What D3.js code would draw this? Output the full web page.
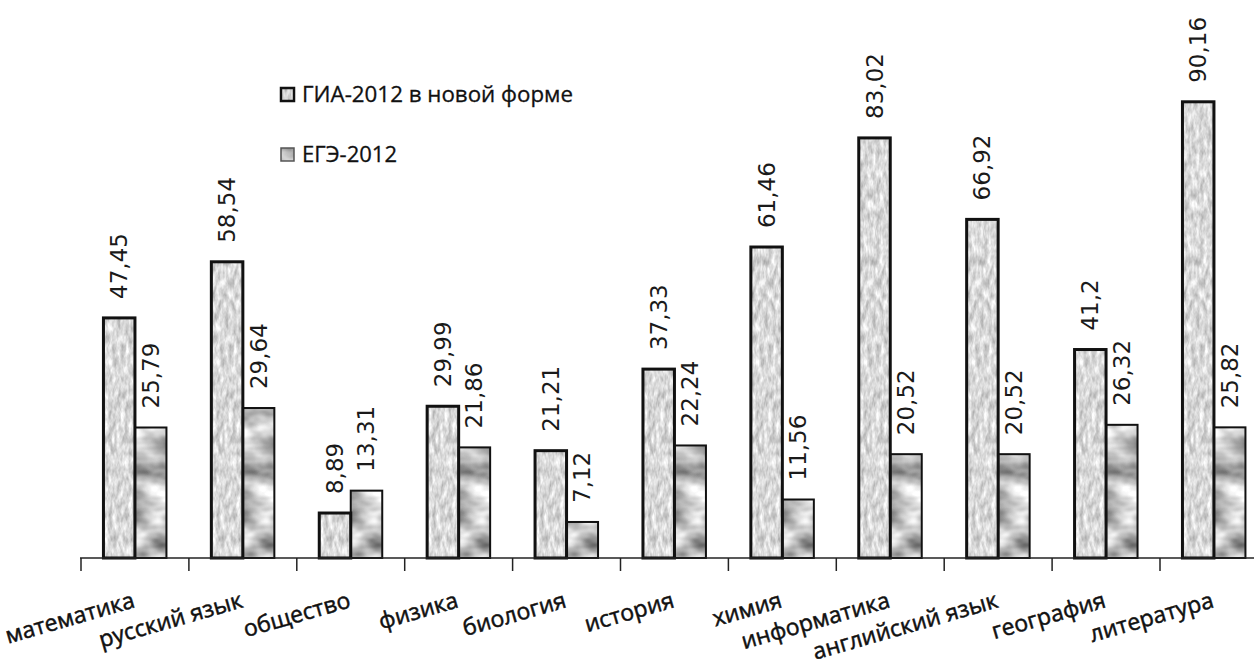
<!DOCTYPE html>
<html><head><meta charset="utf-8">
<script src="https://cdn.jsdelivr.net/npm/d3@7"></script>
<style>html,body{margin:0;padding:0;background:#fff;}svg{display:block;}</style>
</head><body>
<script>
const categories = ["математика","русский язык","общество","физика","биология","история","химия","информатика","английский язык","география","литература"];
const seriesNames = ["ГИА-2012 в новой форме","ЕГЭ-2012"];
const giaValues = [47.45,58.54,8.89,29.99,21.21,37.33,61.46,83.02,66.92,41.2,90.16];
const egeValues = [25.79,29.64,13.31,21.86,7.12,22.24,11.56,20.52,20.52,26.32,25.82];
const labelsGia = ["47,45","58,54","8,89","29,99","21,21","37,33","61,46","83,02","66,92","41,2","90,16"];
const labelsEge = ["25,79","29,64","13,31","21,86","7,12","22,24","11,56","20,52","20,52","26,32","25,82"];

const W = 1254, H = 668;
const svg = d3.select("body").append("svg").attr("width", W).attr("height", H);
svg.append("rect").attr("width", W).attr("height", H).attr("fill", "#fff");

const defs = svg.append("defs");
function texture(id, type, freq, oct, seed, a, b) {
  const f = defs.append("filter").attr("id", id)
    .attr("x", 0).attr("y", 0).attr("width", 1).attr("height", 1)
    .attr("color-interpolation-filters", "sRGB");
  f.append("feTurbulence").attr("type", type).attr("baseFrequency", freq)
    .attr("numOctaves", oct).attr("seed", seed).attr("result", "n");
  f.append("feColorMatrix").attr("in", "n").attr("type", "matrix")
    .attr("values", `${a} 0 0 0 ${b}  ${a} 0 0 0 ${b}  ${a} 0 0 0 ${b}  0 0 0 0 1`)
    .attr("result", "g");
  f.append("feComposite").attr("in", "g").attr("in2", "SourceGraphic").attr("operator", "in");
}
texture("texGia", "fractalNoise", "0.25 0.09", 3, 4, 0.5, 0.6);
texture("texEge", "fractalNoise", "0.03 0.05", 3, 7, 0.95, 0.28);

const x0 = d3.scaleBand().domain(categories).range([81, 81 + 11 * 107.9]).padding(0);
const x1 = d3.scaleBand().domain(seriesNames).range([0, x0.bandwidth()]).paddingInner(0).paddingOuter(0.713);
const y = d3.scaleLinear().domain([0, 100]).range([558, 52]);

const data = categories.map((c, i) => ({c, vals: [
  {s: seriesNames[0], v: giaValues[i], lab: labelsGia[i]},
  {s: seriesNames[1], v: egeValues[i], lab: labelsEge[i]}
]}));

const g = svg.append("g");
const groups = g.selectAll("g.cat").data(data).join("g")
  .attr("transform", d => `translate(${x0(d.c)},0)`);

const fills = {[seriesNames[0]]: "url(#texGia)", [seriesNames[1]]: "url(#texEge)"};
const strokeW = {[seriesNames[0]]: 3, [seriesNames[1]]: 2};

groups.selectAll("rect.fill").data(d => d.vals).join("rect")
  .attr("x", d => x1(d.s)).attr("y", d => y(d.v))
  .attr("width", x1.bandwidth()).attr("height", d => y(0) - y(d.v))
  .attr("fill", "#000").attr("filter", d => fills[d.s]);
groups.selectAll("rect.out").data(d => d.vals).join("rect")
  .attr("x", d => x1(d.s)).attr("y", d => y(d.v))
  .attr("width", x1.bandwidth()).attr("height", d => y(0) - y(d.v))
  .attr("fill", "none").attr("stroke", "#111").attr("stroke-width", d => strokeW[d.s]);

groups.selectAll("text.val").data(d => d.vals).join("text")
  .attr("transform", d => `translate(${x1(d.s) + x1.bandwidth() / 2 + 8},${y(d.v) - 19}) rotate(-90)`)
  .attr("text-anchor", "start")
  .attr("font-family", "DejaVu Sans").attr("font-size", 23).attr("fill", "#1a1a1a")
  .text(d => d.lab);

// axis
const axis = d3.axisBottom(x0).tickSize(13).tickFormat("");
const ax = svg.append("g").attr("transform", `translate(0,${y(0)})`).call(axis);
ax.select(".domain").attr("d", `M80,0H${W}`).attr("stroke", "#222").attr("stroke-width", 1.5);
ax.selectAll(".tick").remove();
ax.selectAll("line.tk").data(categories).join("line")
  .attr("x1", d => x0(d)).attr("x2", d => x0(d)).attr("y1", 0).attr("y2", 13)
  .attr("stroke", "#222").attr("stroke-width", 1.5);

svg.append("g").selectAll("text").data(categories).join("text")
  .attr("transform", d => `translate(${x0(d) + x0.bandwidth() / 2 + 1},607) rotate(-16)`)
  .attr("text-anchor", "end")
  .attr("font-family", "Open Sans").attr("font-size", 23).attr("fill", "#111")
  .attr("stroke", "#111").attr("stroke-width", 0.5)
  .text(d => d);

// legend
const leg = svg.append("g");
seriesNames.forEach((s, i) => {
  const yy = 88 + i * 60;
  leg.append("rect").attr("x", 281).attr("y", yy).attr("width", 13).attr("height", 13)
    .attr("fill", "#000").attr("filter", i === 0 ? "url(#texGia)" : "url(#texEge)");
  leg.append("rect").attr("x", 281).attr("y", yy).attr("width", 13).attr("height", 13)
    .attr("fill", "none").attr("stroke", i === 0 ? "#111" : "#555").attr("stroke-width", i === 0 ? 2.5 : 1.5);
  leg.append("text").attr("x", 302).attr("y", yy + 14)
    .attr("font-family", "Open Sans").attr("font-size", 22).attr("fill", "#111")
    .attr("stroke", "#111").attr("stroke-width", 0.3)
    .attr("textLength", i === 0 ? 271 : 95).attr("lengthAdjust", "spacingAndGlyphs")
    .text(s);
});
</script>
</body></html>
